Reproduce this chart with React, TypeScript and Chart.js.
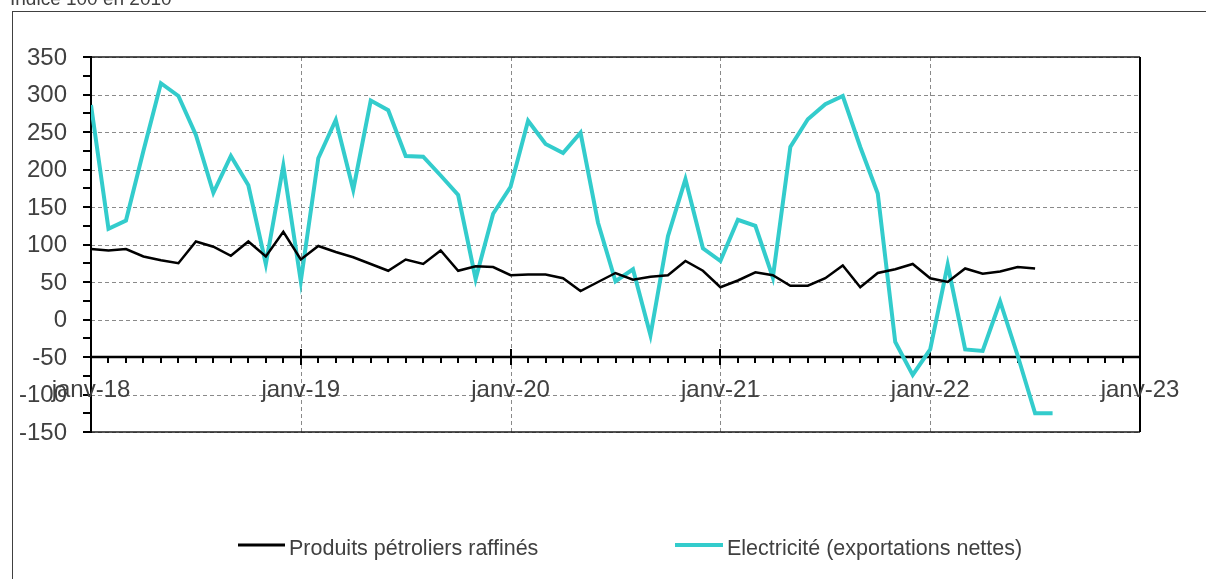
import React, { useEffect, useRef } from "react";
import { Chart, registerables } from "chart.js";

Chart.register(...registerables);

// ---- Data (monthly, starting janv-2018) ----
const titleText = "Indice 100 en 2010";
const yearLabels = ["janv-18", "janv-19", "janv-20", "janv-21", "janv-22", "janv-23"];
const yTickValues = [350, 300, 250, 200, 150, 100, 50, 0, -50, -100, -150];
const seriesNames = ["Produits pétroliers raffinés", "Electricité (exportations nettes)"];

const petroleValues = [
  94, 92, 94, 84, 79, 75, 104, 97, 85, 104, 84, 117,
  80, 98, 90, 83, 74, 65, 80, 74, 92, 65, 71, 70,
  59, 60, 60, 55, 38, 50, 62, 53, 57, 59, 78, 65,
  43, 52, 63, 59, 45, 45, 55, 72, 43, 62, 67, 74,
  55, 50, 68, 61, 64, 70, 68,
];

const electriciteValues = [
  286, 121, 132, 225, 315, 298, 246, 169, 218, 179, 74, 205,
  51, 215, 266, 173, 292, 279, 218, 217, 192, 166, 54, 141,
  177, 265, 234, 222, 249, 129, 51, 67, -21, 111, 187, 95,
  78, 133, 125, 56, 230, 267, 287, 298, 230, 168, -30, -74,
  -40, 73, -40, -42, 24, -48, -125, -125,
];

const Y_MIN = -150;
const Y_MAX = 350;
const X_AXIS_CROSS = -50;
const MONTHS_TOTAL = 60;

const FONT = '"Liberation Sans", Arial, sans-serif';
const TEXT_COLOR = "#404040";
const CYAN = "#33CCCC";

function seg(ctx: CanvasRenderingContext2D, x1: number, y1: number, x2: number, y2: number) {
  ctx.beginPath();
  ctx.moveTo(x1, y1);
  ctx.lineTo(x2, y2);
  ctx.stroke();
}

const excelPlugin = {
  id: "excelFrame",
  beforeDatasetsDraw(chart: any) {
    const { ctx, chartArea: a, scales } = chart;
    const x = scales.x;
    const y = scales.y;
    ctx.save();

    // outer frame
    ctx.strokeStyle = "#404040";
    ctx.lineWidth = 1;
    ctx.strokeRect(12.5, 11.5, 1400, 800);

    // title (partially cropped at top)
    ctx.fillStyle = TEXT_COLOR;
    ctx.font = `19px ${FONT}`;
    ctx.textAlign = "left";
    ctx.textBaseline = "alphabetic";
    ctx.fillText(titleText, 10, 4.5);

    // dashed gridlines
    ctx.setLineDash([4, 3]);
    ctx.strokeStyle = "#8a8a8a";
    ctx.lineWidth = 1;
    for (const v of yTickValues) {
      const py = Math.round(y.getPixelForValue(v)) + 0.5;
      seg(ctx, a.left, py, a.right, py);
    }
    for (let m = 12; m < MONTHS_TOTAL; m += 12) {
      const px = Math.round(x.getPixelForValue(m)) + 0.5;
      seg(ctx, px, a.top, px, a.bottom);
    }
    ctx.setLineDash([]);

    // plot area border
    ctx.strokeStyle = "#1a1a1a";
    ctx.lineWidth = 1.5;
    seg(ctx, a.left, a.top, a.right, a.top);
    seg(ctx, a.left, a.bottom, a.right, a.bottom);
    ctx.strokeStyle = "#000";
    ctx.lineWidth = 2;
    seg(ctx, a.right, a.top, a.right, a.bottom);

    // y axis
    ctx.strokeStyle = "#000";
    ctx.lineWidth = 2;
    seg(ctx, a.left, a.top - 1, a.left, a.bottom + 1);
    for (let v = Y_MIN; v <= Y_MAX; v += 25) {
      const py = Math.round(y.getPixelForValue(v));
      seg(ctx, a.left - 8, py, a.left, py);
    }

    // x axis crossing at -50
    const ay = Math.round(y.getPixelForValue(X_AXIS_CROSS));
    ctx.lineWidth = 2.5;
    seg(ctx, a.left, ay, a.right, ay);
    ctx.lineWidth = 2;
    for (let m = 0; m <= MONTHS_TOTAL; m++) {
      const px = Math.round(x.getPixelForValue(m));
      if (m % 12 === 0) seg(ctx, px, ay - 8, px, ay + 8);
      else seg(ctx, px, ay, px, ay + 6);
    }

    // y labels
    ctx.fillStyle = TEXT_COLOR;
    ctx.font = `24px ${FONT}`;
    ctx.textAlign = "right";
    ctx.textBaseline = "middle";
    for (const v of yTickValues) {
      ctx.fillText(String(v), a.left - 24, y.getPixelForValue(v) + 1);
    }

    // x labels
    ctx.textAlign = "center";
    ctx.textBaseline = "alphabetic";
    yearLabels.forEach((lab, i) => {
      ctx.fillText(lab, x.getPixelForValue(i * 12), ay + 40);
    });

    ctx.restore();
  },
  afterDraw(chart: any) {
    const { ctx } = chart;
    ctx.save();
    const ly = 545;
    const items = [
      { color: "#000", width: 3, x1: 238, x2: 285, tx: 289, text: seriesNames[0] },
      { color: CYAN, width: 4, x1: 675, x2: 723, tx: 727, text: seriesNames[1] },
    ];
    ctx.font = `21.5px ${FONT}`;
    ctx.textAlign = "left";
    ctx.textBaseline = "alphabetic";
    for (const it of items) {
      ctx.strokeStyle = it.color;
      ctx.lineWidth = it.width;
      seg(ctx, it.x1, ly, it.x2, ly);
      ctx.fillStyle = TEXT_COLOR;
      ctx.fillText(it.text, it.tx, ly + 10);
    }
    ctx.restore();
  },
};

export default function App() {
  const canvasRef = useRef<HTMLCanvasElement | null>(null);

  useEffect(() => {
    const canvas = canvasRef.current;
    if (!canvas) return;
    const chart = new Chart(canvas, {
      type: "line",
      data: {
        datasets: [
          {
            label: seriesNames[1],
            data: electriciteValues.map((v, i) => ({ x: i, y: v })),
            borderColor: CYAN,
            borderWidth: 4,
            pointRadius: 0,
            tension: 0,
            fill: false,
            order: 2,
          },
          {
            label: seriesNames[0],
            data: petroleValues.map((v, i) => ({ x: i, y: v })),
            borderColor: "#000000",
            borderWidth: 2.5,
            pointRadius: 0,
            tension: 0,
            fill: false,
            order: 1,
          },
        ],
      },
      options: {
        animation: false,
        responsive: false,
        maintainAspectRatio: false,
        layout: { padding: { left: 91, right: 66, top: 57, bottom: 147 } },
        plugins: { legend: { display: false }, tooltip: { enabled: false }, title: { display: false } },
        scales: {
          x: { type: "linear", min: 0, max: MONTHS_TOTAL, display: false },
          y: { type: "linear", min: Y_MIN, max: Y_MAX, display: false },
        },
        elements: { point: { radius: 0 } },
      },
      plugins: [excelPlugin],
    } as any);
    return () => chart.destroy();
  }, []);

  return (
    <div style={{ position: "fixed", left: 0, top: 0, width: 1206, height: 579, background: "#fff", overflow: "hidden" }}>
      <canvas ref={canvasRef} width={1206} height={579} style={{ width: 1206, height: 579, display: "block" }} />
    </div>
  );
}
